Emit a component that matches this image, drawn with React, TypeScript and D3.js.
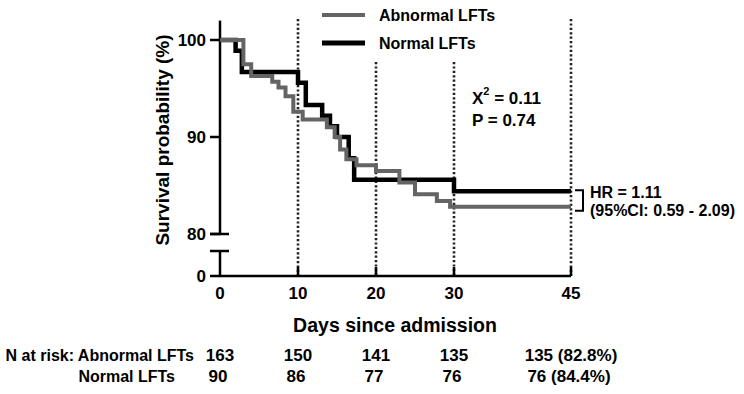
import React from 'react'
import * as d3 from 'd3'

// Kaplan-Meier steps: [day, survival %]
const abnormalSteps: [number, number][] = [
  [0, 100], [3, 97.5], [4, 96.3], [6.7, 95.7], [7.5, 95.1], [8.4, 94.2],
  [9.4, 92.6], [10.6, 91.8], [13.7, 91.0], [14.7, 90.0], [15.4, 88.7],
  [16.2, 87.7], [17.5, 87.1], [20, 86.5], [23, 85.3], [25, 84.1],
  [27.8, 83.4], [29.5, 82.8], [45, 82.8],
]
const normalSteps: [number, number][] = [
  [0, 100], [2, 98.9], [2.8, 96.7], [10, 95.6], [11, 93.3], [13.1, 92.2],
  [14.1, 91.1], [15, 90.0], [16.5, 87.8], [17.2, 85.6], [30, 84.4], [45, 84.4],
]

const dayTicks = [0, 10, 20, 30, 45]
const guideDays = [10, 20, 30, 45]
const upperTicks = [100, 90, 80]
const riskAbnormal = ['163', '150', '141', '135', '135 (82.8%)']
const riskNormal = ['90', '86', '77', '76', '76 (84.4%)']

const seriesNames = ['Abnormal LFTs', 'Normal LFTs']
const seriesColors = ['#646464', '#000000']

const FONT = '"Liberation Sans", Arial, sans-serif'

export default function App() {
  const x = d3.scaleLinear().domain([0, 45]).range([220, 571])
  const y = d3.scaleLinear().domain([80, 100]).range([234, 40])
  const yZero = 276
  const breakY = 251
  const axisTop = y(102)

  const line = d3.line<[number, number]>()
    .x(d => x(d[0]))
    .y(d => y(d[1]))
    .curve(d3.curveStepAfter)

  const guideTop = (d: number) => (d === 20 || d === 30 ? 62 : 19)

  return (
    <svg width={744} height={394} style={{ position: 'absolute', left: 0, top: 0, background: '#fff' }}
      fontFamily={FONT} fontWeight="bold">
      {/* dotted guides at the risk-table days */}
      {guideDays.map(d => (
        <line key={d} x1={x(d)} x2={x(d)} y1={guideTop(d)} y2={yZero}
          stroke="#222" strokeWidth={2.6} strokeDasharray="2.2 2.2" />
      ))}
      {guideDays.map(d => (
        <line key={'t' + d} x1={x(d)} x2={x(d)} y1={yZero - 9} y2={yZero} stroke="#000" strokeWidth={2.5} />
      ))}

      {/* y axis, broken between 80 and 0 */}
      <line x1={220} x2={220} y1={axisTop} y2={y(80)} stroke="#000" strokeWidth={2.5} />
      <line x1={220} x2={220} y1={breakY} y2={yZero} stroke="#000" strokeWidth={2.5} />
      <line x1={210} x2={229} y1={y(80)} y2={y(80)} stroke="#000" strokeWidth={2.5} />
      <line x1={210} x2={229} y1={breakY} y2={breakY} stroke="#000" strokeWidth={2.5} />
      {upperTicks.map(t => (
        <g key={t}>
          <line x1={210} x2={220} y1={y(t)} y2={y(t)} stroke="#000" strokeWidth={2.5} />
          <text x={206} y={y(t)} textAnchor="end" dominantBaseline="central" fontSize={17}>{t}</text>
        </g>
      ))}
      <line x1={210} x2={220} y1={yZero} y2={yZero} stroke="#000" strokeWidth={2.5} />
      <text x={206} y={yZero} textAnchor="end" dominantBaseline="central" fontSize={17}>0</text>

      {/* x axis */}
      <line x1={219} x2={x(45)} y1={yZero} y2={yZero} stroke="#000" strokeWidth={2.5} />
      {dayTicks.map(d => (
        <text key={d} x={x(d)} y={293} textAnchor="middle" dominantBaseline="central" fontSize={17}>{d}</text>
      ))}

      {/* survival curves */}
      <path d={line(normalSteps) || ''} fill="none" stroke={seriesColors[1]} strokeWidth={4.5} />
      <path d={line(abnormalSteps) || ''} fill="none" stroke={seriesColors[0]} strokeWidth={4} />

      {/* legend */}
      {seriesNames.map((n, i) => (
        <g key={n} transform={`translate(0,${15 + i * 28})`}>
          <line x1={322} x2={365} y1={0} y2={0} stroke={seriesColors[i]} strokeWidth={i ? 5 : 4} />
          <text x={379} y={0} dominantBaseline="central" fontSize={16}>{n}</text>
        </g>
      ))}

      {/* log-rank result */}
      <text x={472} y={98} dominantBaseline="central" fontSize={17}>
        X<tspan fontSize={11} dy={-7}>2</tspan><tspan dy={7}> = 0.11</tspan>
      </text>
      <text x={472} y={120} dominantBaseline="central" fontSize={17}>P = 0.74</text>

      {/* hazard ratio bracket */}
      <path d={`M575,${y(84.4) - 1}H583V${y(82.8) + 4}H575`} fill="none" stroke="#000" strokeWidth={2} />
      <text x={590} y={192} dominantBaseline="central" fontSize={16}>HR = 1.11</text>
      <text x={590} y={210} dominantBaseline="central" fontSize={16}>(95%CI: 0.59 - 2.09)</text>

      {/* axis titles */}
      <text transform="translate(162,140) rotate(-90)" textAnchor="middle" dominantBaseline="central" fontSize={19}>
        Survival probability (%)
      </text>
      <text x={395} y={325} textAnchor="middle" dominantBaseline="central" fontSize={19.5}>Days since admission</text>

      {/* number at risk */}
      <text x={194} y={355} textAnchor="end" dominantBaseline="central" fontSize={16}>N at risk: Abnormal LFTs</text>
      <text x={175} y={376} textAnchor="end" dominantBaseline="central" fontSize={16}>Normal LFTs</text>
      {dayTicks.map((d, i) => (
        <g key={d}>
          <text x={x(d)} y={355} textAnchor="middle" dominantBaseline="central" fontSize={17}>{riskAbnormal[i]}</text>
          <text x={x(d) - 2} y={376} textAnchor="middle" dominantBaseline="central" fontSize={17}>{riskNormal[i]}</text>
        </g>
      ))}
    </svg>
  )
}
